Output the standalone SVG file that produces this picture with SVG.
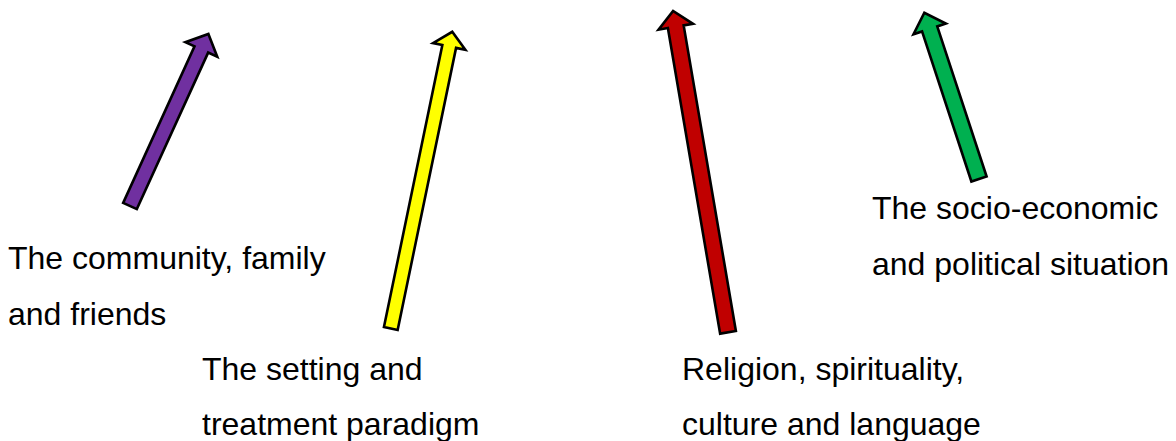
<svg xmlns="http://www.w3.org/2000/svg" width="1176" height="441" viewBox="0 0 1176 441">
  <style>
    .arrow { stroke: #000; stroke-width: 2.6; stroke-linejoin: miter; }
    .lbl { font-family: "Liberation Sans", Arial, sans-serif; font-size: 32px; fill: #000; }
  </style>
  <rect width="1176" height="441" fill="#fff"/>
  <g id="connectors">
    <path id="arrow-purple" class="arrow" fill="#7030A0" transform="translate(130,206) rotate(-65.5)" d="M0,-7.5 L172,-7.5 L172,-17.5 L189,0 L172,17.5 L172,7.5 L0,7.5 Z"/>
    <path id="arrow-yellow" class="arrow" fill="#FFFF00" transform="translate(390.8,328.5) rotate(-78.3)" d="M0,-7 L288,-7 L288,-16.5 L303,0 L288,16.5 L288,7 L0,7 Z"/>
    <path id="arrow-red" class="arrow" fill="#C00000" transform="translate(728,332.3) rotate(-99.7)" d="M0,-8 L310,-8 L310,-17.5 L326,0 L310,17.5 L310,8 L0,8 Z"/>
    <path id="arrow-green" class="arrow" fill="#00B050" transform="translate(979,179) rotate(-108.2)" d="M0,-8 L158,-8 L158,-17 L175,0 L158,17 L158,8 L0,8 Z"/>
  </g>
  <g id="node-community">
    <text class="lbl" x="8" y="269">The community, family</text>
    <text class="lbl" x="8" y="325">and friends</text>
  </g>
  <g id="node-setting">
    <text class="lbl" x="202" y="380">The setting and</text>
    <text class="lbl" x="202" y="435">treatment paradigm</text>
  </g>
  <g id="node-religion">
    <text class="lbl" x="682" y="380">Religion, spirituality,</text>
    <text class="lbl" x="682" y="435">culture and language</text>
  </g>
  <g id="node-socio">
    <text class="lbl" x="872" y="219">The socio-economic</text>
    <text class="lbl" x="872" y="275">and political situation</text>
  </g>
</svg>
